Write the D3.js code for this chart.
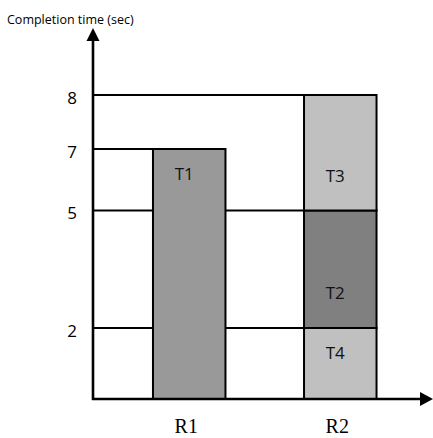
<!DOCTYPE html>
<html>
<head>
<meta charset="utf-8">
<script src="https://cdn.jsdelivr.net/npm/d3@7"></script>
<style>
  html, body { margin: 0; padding: 0; background: #fff; }
  svg { display: block; }
</style>
</head>
<body>
<svg id="chart" width="433" height="438"></svg>
<script>
// ---- data ----
const resources = ["R1", "R2"];
const tasks = ["T1", "T4", "T2", "T3"];
const taskResource = ["R1", "R2", "R2", "R2"];
const taskStart = [0, 0, 2, 5];
const taskEnd = [7, 2, 5, 8];
const tickValues = [2, 5, 7, 8];
const yTitle = "Completion time (sec)";

// ---- layout / style (not data) ----
const taskFill = { T1: "#999999", T2: "#808080", T3: "#c0c0c0", T4: "#c0c0c0" };
const labelDy = { T1: 24, T3: 80, T2: 82, T4: 24 }; // px below segment top
const axisX = 93, axisY = 399;

const svg = d3.select("#chart");

// schematic (piecewise) value scale, as drawn in the reference
const y = d3.scaleLinear().domain([0, 2, 5, 7, 8]).range([399, 328, 210.5, 149, 95]);
const x = d3.scaleBand().domain(resources).range([93, 436.5]).paddingInner(0.52).paddingOuter(0.397);

const segs = tasks.map((t, i) => ({ task: t, res: taskResource[i], s: taskStart[i], e: taskEnd[i] }));

// gridlines: from axis to the first bar that has a boundary at that value
const grid = tickValues.map(v => {
  const hit = resources.find(r => segs.some(d => d.res === r && d.e === v));
  return { v, x2: hit ? x(hit) : axisX };
});
svg.append("g").selectAll("line").data(grid).join("line")
  .attr("x1", axisX).attr("x2", d => d.x2)
  .attr("y1", d => y(d.v)).attr("y2", d => y(d.v))
  .attr("stroke", "#000").attr("stroke-width", 1.8);

// bars
svg.append("g").selectAll("rect").data(segs).join("rect")
  .attr("x", d => x(d.res))
  .attr("y", d => y(d.e))
  .attr("width", x.bandwidth())
  .attr("height", d => y(d.s) - y(d.e))
  .attr("fill", d => taskFill[d.task])
  .attr("stroke", "#000").attr("stroke-width", 2);

// task labels
svg.append("g").selectAll("text").data(segs).join("text")
  .attr("x", d => x(d.res) + x.bandwidth() / 2 - 5)
  .attr("y", d => y(d.e) + labelDy[d.task])
  .attr("text-anchor", "middle").attr("dominant-baseline", "central")
  .attr("font-family", "'Open Sans', sans-serif").attr("font-size", 17)
  .attr("fill", "#111")
  .text(d => d.task);

// y tick labels
const yAxis = d3.axisLeft(y).tickValues(tickValues).tickSize(0).tickPadding(16).tickFormat(d3.format("d"));
const gy = svg.append("g").attr("transform", `translate(${axisX},3)`).call(yAxis);
gy.select(".domain").remove();
gy.selectAll("text").attr("font-family", "'Open Sans', sans-serif").attr("font-size", 17).attr("fill", "#000");

// x labels
const xAxis = d3.axisBottom(x).tickSize(0).tickPadding(0);
const gx = svg.append("g").attr("transform", `translate(-3,${axisY})`).call(xAxis);
gx.select(".domain").remove();
gx.selectAll("text").attr("y", 34).attr("dy", 0)
  .attr("font-family", "'Liberation Serif', 'Times New Roman', serif").attr("font-size", 20).attr("fill", "#000");

// axes with arrows
svg.append("line").attr("x1", axisX).attr("x2", axisX).attr("y1", axisY + 1).attr("y2", 40)
  .attr("stroke", "#000").attr("stroke-width", 2.6);
svg.append("line").attr("x1", axisX - 1).attr("x2", 422).attr("y1", axisY).attr("y2", axisY)
  .attr("stroke", "#000").attr("stroke-width", 2.6);
svg.append("path").attr("d", `M${axisX},28 L${axisX - 6.5},41 L${axisX + 6.5},41 Z`).attr("fill", "#000");
svg.append("path").attr("d", `M433,${axisY} L420,${axisY - 7} L420,${axisY + 7} Z`).attr("fill", "#000");

// title
svg.append("text").attr("x", 7).attr("y", 24)
  .attr("font-family", "'Open Sans', sans-serif").attr("font-size", 12.5).attr("fill", "#000")
  .text(yTitle);
</script>
</body>
</html>
